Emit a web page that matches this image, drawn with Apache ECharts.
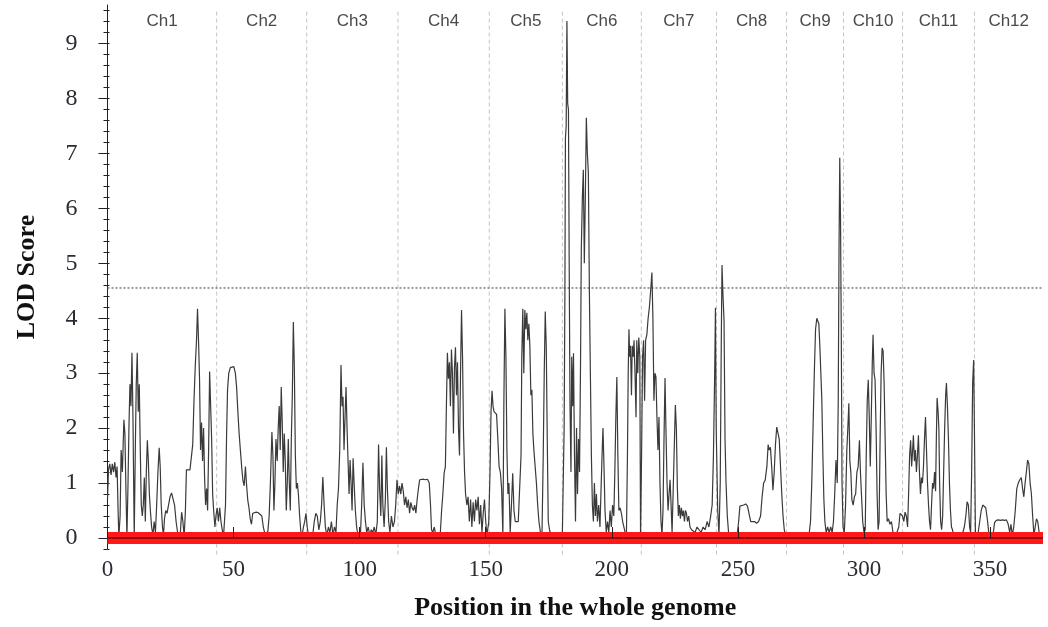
<!DOCTYPE html>
<html>
<head>
<meta charset="utf-8">
<script src="https://cdn.jsdelivr.net/npm/echarts@6/dist/echarts.min.js"></script>
<style>
  html, body { margin: 0; padding: 0; background: #fff; }
  #chart { width: 1048px; height: 627px; }
</style>
</head>
<body>
<div id="chart"></div>
<script>
// Chromosome names and their boundaries along the concatenated genome (cM)
const chrNames = ['Ch1','Ch2','Ch3','Ch4','Ch5','Ch6','Ch7','Ch8','Ch9','Ch10','Ch11','Ch12'];
const chrBounds = [0, 43.3, 79.0, 115.2, 151.4, 180.4, 211.7, 241.5, 269.3, 291.9, 315.3, 343.8, 371];

// LOD significance threshold
const threshold = 4.55;

// Axis tick labels
const xTicks = [0, 50, 100, 150, 200, 250, 300, 350];
const yTicks = [0, 1, 2, 3, 4, 5, 6, 7, 8, 9];

// LOD profile per chromosome: [genome position, LOD]
const ch1 = [[0,0.7],[0.4,1.25],[0.9,1.35],[1.4,1.15],[1.9,1.35],[2.4,1.2],[2.9,1.38],[3.4,1.1],[3.8,1.3],[4.2,0.5],[4.5,0.02],[5.0,0.4],[5.4,1.6],[5.9,1.2],[6.5,2.15],[6.9,1.9],[7.3,0.9],[7.7,0.02],[8.1,0.9],[8.5,2.0],[8.9,2.8],[9.3,2.4],[9.7,3.37],[10.1,2.2],[10.6,0.02],[11.0,1.5],[11.4,2.8],[11.8,3.37],[12.2,2.3],[12.6,2.8],[13.0,1.6],[13.4,0.6],[13.8,0.4],[14.2,0.6],[14.6,1.1],[15.0,0.3],[15.4,1.2],[15.8,1.78],[16.2,1.4],[16.6,0.8],[17.0,0.5],[17.5,0.2],[18.0,0.05],[18.5,0.3],[19.0,0.1],[19.5,0.6],[20.0,1.2],[20.5,1.64],[20.9,1.3],[21.3,0.6],[21.8,0.2],[22.2,0.05],[22.6,0.35],[23.1,0.5],[23.6,0.45],[24.2,0.6],[24.8,0.75],[25.4,0.82],[26.0,0.8],[26.6,0.6],[27.2,0.3],[27.8,0.1],[28.4,0.02],[28.9,0.1],[29.4,0.47],[29.9,0.3],[30.4,0.02],[30.9,0.5],[31.3,1.24],[32.0,1.24],[32.7,1.24],[33.3,1.24],[33.8,1.7],[34.3,2.5],[34.8,3.12],[35.3,3.6],[35.7,4.17],[36.1,3.6],[36.5,2.9],[36.9,1.6],[37.3,2.1],[37.7,1.4],[38.1,2.0],[38.5,1.1],[38.9,0.6],[39.3,0.9],[39.7,0.5],[40.1,1.6],[40.5,3.03],[40.9,2.4],[41.3,1.8],[41.7,0.8],[42.1,0.5],[42.6,0.2],[43.0,0.4]];
const ch2 = [[43.5,0.55],[44.0,0.3],[44.5,0.55],[45.0,0.3],[45.5,0.15],[46.0,0.02],[46.3,0.05],[46.8,0.6],[47.2,1.8],[47.6,2.7],[48.1,3.0],[48.7,3.1],[49.4,3.13],[50.1,3.12],[50.7,3.0],[51.2,2.75],[51.7,2.3],[52.2,1.9],[52.7,1.6],[53.2,1.3],[53.7,1.05],[54.2,0.95],[54.7,1.3],[55.1,1.0],[55.6,0.7],[56.1,0.55],[56.6,0.35],[57.1,0.25],[57.6,0.45],[58.3,0.47],[59.0,0.47],[59.8,0.46],[60.5,0.45],[61.2,0.4],[61.8,0.2],[62.4,0.08],[63.0,0.1],[63.6,0.12],[64.1,0.4],[64.6,1.0],[65.2,1.93],[65.6,1.5],[66.0,0.5],[66.4,1.0],[66.8,1.8],[67.3,1.4],[67.7,2.0],[68.1,2.4],[68.5,1.6],[68.9,2.75],[69.3,2.1],[69.7,1.2],[70.1,1.9],[70.5,1.4],[70.9,0.5],[71.3,1.0],[71.7,1.8],[72.1,1.0],[72.5,0.5],[72.9,1.8],[73.3,2.6],[73.7,3.93],[74.1,3.1],[74.5,1.5],[74.9,0.9],[75.3,1.0],[75.7,0.8],[76.2,0.4],[76.7,0.1],[77.2,0.05],[77.7,0.2],[78.2,0.3]];
const ch3 = [[78.7,0.45],[79.2,0.2],[79.7,0.05],[80.3,0.1],[80.9,0.05],[81.5,0.1],[82.0,0.3],[82.6,0.45],[83.2,0.4],[83.8,0.15],[84.4,0.3],[84.9,0.6],[85.4,1.11],[85.9,0.6],[86.4,0.2],[87.0,0.05],[87.6,0.2],[88.2,0.1],[88.8,0.3],[89.4,0.05],[90.0,0.2],[90.6,0.1],[91.1,0.6],[91.6,0.9],[92.1,1.6],[92.6,3.15],[93.0,2.4],[93.4,2.57],[93.8,1.6],[94.2,2.2],[94.6,2.75],[95.0,2.0],[95.4,1.4],[95.8,0.8],[96.2,1.42],[96.6,1.0],[97.0,0.5],[97.4,1.45],[97.8,1.0],[98.3,0.5],[98.8,0.2],[99.3,0.05],[99.8,0.1],[100.3,0.05],[100.8,0.6],[101.3,1.37],[101.8,0.6],[102.3,0.3],[102.8,0.1],[103.4,0.2],[104.0,0.05],[104.6,0.15],[105.2,0.1],[105.8,0.2],[106.4,0.05],[107.0,0.3],[107.5,1.7],[107.9,0.9],[108.4,0.4],[108.8,1.5],[109.2,0.6],[109.7,0.2],[110.2,0.7],[110.6,1.65],[111.0,0.9],[111.5,0.3],[112.0,0.1],[112.6,0.4],[113.2,0.2],[113.8,0.3],[114.3,0.6],[114.8,1.06]];
const ch4 = [[115.3,0.8],[115.8,0.95],[116.3,0.8],[116.8,1.0],[117.3,0.85],[117.8,0.6],[118.3,0.75],[118.8,0.55],[119.3,0.7],[119.8,0.45],[120.3,0.65],[120.8,0.55],[121.3,0.5],[121.8,0.6],[122.3,0.45],[122.8,0.7],[123.3,0.9],[123.8,1.06],[124.5,1.07],[125.3,1.07],[126.1,1.06],[126.9,1.07],[127.6,1.0],[128.1,0.6],[128.5,0.15],[129.0,0.1],[129.6,0.2],[130.2,0.05],[130.8,0.1],[131.4,0.05],[132.0,0.1],[132.5,0.5],[133.0,0.8],[133.5,1.18],[134.0,1.3],[134.4,2.4],[134.8,3.37],[135.2,2.9],[135.6,3.2],[136.0,2.4],[136.4,3.43],[136.8,3.0],[137.2,1.9],[137.6,3.1],[138.0,3.47],[138.4,2.6],[138.8,3.2],[139.2,2.0],[139.6,1.5],[140.0,3.0],[140.4,4.15],[140.8,3.3],[141.2,1.9],[141.6,1.2],[142.0,0.8],[142.5,0.6],[143.0,0.75],[143.5,0.3],[144.0,0.7],[144.5,0.2],[145.0,0.65],[145.5,0.3],[146.0,0.7],[146.5,0.5],[147.0,0.75],[147.5,0.25],[148.0,0.6],[148.5,0.1],[149.0,0.45],[149.5,0.7],[150.0,0.3],[150.5,0.05]];
const ch5 = [[151.2,0.3],[151.7,1.2],[152.1,2.3],[152.5,2.68],[152.9,2.4],[153.3,2.3],[153.8,2.28],[154.3,2.25],[154.8,1.8],[155.3,1.3],[155.8,1.2],[156.3,0.9],[156.8,0.05],[157.2,2.5],[157.6,4.17],[158.0,3.3],[158.4,1.6],[158.8,0.8],[159.2,1.0],[159.7,0.1],[160.2,0.6],[160.7,1.18],[161.2,0.5],[161.7,0.3],[162.3,0.27],[162.9,0.3],[163.5,0.27],[164.0,1.5],[164.3,3.3],[164.7,4.17],[165.1,3.0],[165.5,4.15],[165.9,3.8],[166.3,4.1],[166.7,3.6],[167.1,3.9],[167.5,3.5],[167.9,2.6],[168.3,2.7],[168.7,1.9],[169.1,1.6],[169.6,1.3],[170.1,1.0],[170.6,0.6],[171.1,0.3],[171.7,0.1],[172.3,0.05],[172.8,1.5],[173.2,3.0],[173.6,4.12],[174.0,3.5],[174.4,1.8],[174.8,0.3],[175.3,0.15],[175.9,0.05],[176.5,0.1],[177.2,0.05],[178.0,0.05],[178.8,0.05],[179.6,0.1]];
const ch6 = [[180.4,0.1],[180.8,1.2],[181.1,2.0],[181.4,4.5],[181.6,7.27],[181.9,7.5],[182.2,9.41],[182.5,7.9],[182.8,7.8],[183.1,5.0],[183.4,2.5],[183.8,1.2],[184.1,3.3],[184.5,2.4],[184.8,3.36],[185.2,1.5],[185.6,0.3],[186.0,2.0],[186.4,0.8],[186.8,1.8],[187.2,1.2],[187.6,3.2],[187.9,5.25],[188.3,6.16],[188.7,6.7],[189.1,5.0],[189.5,6.2],[189.9,7.65],[190.3,7.0],[190.7,6.65],[191.1,4.5],[191.5,3.0],[191.9,1.5],[192.3,0.6],[192.7,0.3],[193.1,1.0],[193.5,0.4],[193.9,0.8],[194.3,0.3],[194.8,0.6],[195.3,0.2],[195.8,1.0],[196.2,1.6],[196.5,2.0],[196.9,1.3],[197.3,0.5],[197.8,0.1],[198.3,0.3],[198.8,0.1],[199.3,0.5],[199.8,0.2],[200.3,0.6],[200.8,0.4],[201.2,1.2],[201.6,2.2],[202.0,2.93],[202.4,1.5],[202.8,0.5],[203.3,0.55],[203.8,0.45],[204.3,0.3],[204.8,0.2],[205.3,0.1],[205.8,0.05],[206.2,1.5],[206.5,3.0],[206.8,3.8],[207.1,3.3],[207.4,3.5],[207.8,2.6],[208.1,3.5],[208.5,3.3],[208.8,3.6],[209.2,3.0],[209.6,2.2],[209.9,3.6],[210.3,3.0],[210.7,3.65],[211.1,3.3],[211.4,0.05]];
const ch7 = [[211.8,1.5],[212.2,3.3],[212.6,3.6],[213.0,2.5],[213.4,3.6],[213.9,3.7],[214.4,4.0],[214.9,4.2],[215.4,4.5],[215.9,4.83],[216.3,4.0],[216.7,2.5],[217.1,3.0],[217.5,2.93],[217.9,2.2],[218.3,1.6],[218.7,2.2],[219.1,1.0],[219.5,0.3],[219.9,0.05],[220.3,0.5],[220.7,1.8],[221.1,2.91],[221.5,1.9],[221.9,1.0],[222.3,0.5],[222.7,0.8],[223.1,1.06],[223.5,0.6],[223.9,0.1],[224.3,0.8],[224.8,1.7],[225.2,2.42],[225.6,2.0],[226.0,0.9],[226.4,0.4],[226.8,0.6],[227.2,0.35],[227.6,0.55],[228.0,0.4],[228.4,0.5],[228.8,0.3],[229.2,0.5],[229.6,0.45],[230.0,0.3],[230.5,0.4],[231.0,0.2],[231.6,0.15],[232.3,0.18],[233.0,0.1],[233.8,0.2],[234.6,0.15],[235.4,0.1],[236.2,0.2],[237.0,0.15],[237.8,0.3],[238.5,0.2],[239.2,0.4],[239.8,0.6],[240.3,1.5],[240.8,3.0],[241.1,4.19],[241.4,2.0]];
const ch8 = [[242.0,0.5],[242.5,0.05],[243.0,1.0],[243.4,3.5],[243.7,4.97],[244.1,4.4],[244.5,3.97],[244.9,1.8],[245.3,1.0],[245.8,0.4],[246.3,0.1],[246.9,0.05],[247.6,0.1],[248.3,0.05],[249.0,0.08],[249.7,0.05],[250.3,0.3],[250.8,0.58],[251.5,0.6],[252.3,0.6],[253.1,0.62],[253.8,0.58],[254.5,0.55],[255.1,0.3],[255.8,0.28],[256.6,0.3],[257.4,0.27],[258.2,0.3],[259.0,0.4],[259.6,0.75],[260.2,1.0],[260.8,1.05],[261.5,1.3],[262.0,1.7],[262.4,1.6],[262.9,1.65],[263.4,1.3],[263.9,0.87],[264.4,1.2],[264.9,1.7],[265.4,2.02],[265.9,2.0],[266.4,1.8],[266.9,1.3],[267.4,0.8],[267.9,0.4],[268.4,0.15],[268.9,0.05]];
const ch9 = [[269.6,0.1],[270.3,0.05],[271.0,0.1],[271.8,0.05],[272.6,0.08],[273.4,0.05],[274.2,0.1],[275.0,0.05],[275.8,0.08],[276.6,0.05],[277.4,0.1],[278.2,0.05],[278.8,0.3],[279.3,1.0],[279.8,2.0],[280.3,3.0],[280.8,3.8],[281.3,4.0],[281.7,4.03],[282.1,3.9],[282.5,3.5],[282.9,3.0],[283.3,2.5],[283.7,1.5],[284.1,0.7],[284.5,0.3],[285.0,0.1],[285.6,0.2],[286.2,0.1],[286.8,0.2],[287.4,0.1],[287.9,0.3],[288.4,0.8],[288.9,1.42],[289.4,1.0],[289.8,2.5],[290.1,5.2],[290.4,6.92],[290.7,5.8],[291.0,3.73],[291.3,1.0],[291.7,0.2]];
const ch10 = [[292.2,0.1],[292.7,0.6],[293.2,1.6],[293.6,2.0],[294.0,2.45],[294.4,1.4],[294.8,1.2],[295.2,0.7],[295.7,0.6],[296.2,0.75],[296.7,0.8],[297.2,1.2],[297.7,1.3],[298.2,1.78],[298.6,1.2],[299.0,0.8],[299.5,0.3],[300.0,0.1],[300.5,0.15],[300.9,1.5],[301.3,2.5],[301.7,2.88],[302.1,2.2],[302.5,1.3],[302.9,2.2],[303.3,3.2],[303.6,3.7],[304.0,3.0],[304.4,2.88],[304.8,2.0],[305.2,0.8],[305.6,0.15],[306.0,0.3],[306.4,1.8],[306.8,3.0],[307.2,3.46],[307.6,3.4],[308.0,2.8],[308.4,1.8],[308.8,0.8],[309.2,0.3],[309.7,0.35],[310.3,0.25],[310.9,0.3],[311.5,0.1],[312.1,0.08],[312.7,0.05],[313.3,0.08],[313.8,0.2],[314.3,0.45],[314.8,0.47]];
const ch11 = [[315.3,0.4],[315.8,0.3],[316.3,0.47],[316.8,0.4],[317.3,0.2],[317.7,0.8],[318.1,1.5],[318.5,1.78],[318.9,1.3],[319.3,1.6],[319.6,1.87],[320.0,1.4],[320.4,1.6],[320.8,1.2],[321.2,1.5],[321.6,1.87],[322.0,1.2],[322.4,0.8],[322.8,1.1],[323.2,1.0],[323.6,1.3],[324.0,1.8],[324.4,2.2],[324.8,1.6],[325.2,1.0],[325.6,0.6],[326.0,0.3],[326.4,0.15],[326.8,0.6],[327.2,1.0],[327.6,0.9],[328.0,1.2],[328.4,0.85],[328.7,1.8],[329.0,2.55],[329.4,2.3],[329.7,2.0],[330.0,1.0],[330.4,0.3],[330.8,0.15],[331.2,0.4],[331.6,1.2],[332.0,2.0],[332.4,2.6],[332.7,2.82],[333.1,2.4],[333.5,1.8],[333.9,1.0],[334.3,0.5],[334.7,0.2],[335.1,0.15],[335.6,0.05],[336.2,0.1],[336.8,0.05],[337.4,0.1],[338.0,0.05],[338.6,0.08],[339.2,0.1],[339.8,0.2],[340.4,0.4],[340.9,0.66],[341.4,0.6],[341.9,0.2],[342.3,0.1],[342.7,1.2],[343.1,2.82],[343.5,3.24]];
const ch12 = [[343.8,2.0],[344.2,0.1],[344.8,0.05],[345.3,0.1],[345.9,0.3],[346.5,0.5],[347.1,0.6],[347.7,0.62],[348.3,0.55],[348.9,0.35],[349.5,0.1],[350.1,0.05],[350.7,0.05],[351.3,0.1],[351.8,0.28],[352.5,0.32],[353.3,0.33],[354.1,0.32],[354.9,0.33],[355.7,0.32],[356.5,0.33],[357.2,0.25],[357.8,0.1],[358.3,0.25],[358.8,0.05],[359.4,0.2],[360.0,0.5],[360.6,0.9],[361.2,1.0],[361.8,1.06],[362.4,1.1],[362.9,0.9],[363.4,0.75],[363.9,1.0],[364.4,1.2],[364.9,1.42],[365.4,1.35],[365.9,1.0],[366.4,0.8],[366.9,0.4],[367.4,0.05],[367.9,0.2],[368.4,0.35],[368.9,0.3],[369.5,0.1],[370.0,0.05]];

const lodProfile = [].concat(ch1, ch2, ch3, ch4, ch5, ch6, ch7, ch8, ch9, ch10, ch11, ch12);

const X_MIN = 0, X_MAX = 371;
const Y_MIN = -0.2, Y_MAX = 9.7;

// minor ticks every 0.2 LOD along the y axis
const yMinor = [];
for (let i = -1; i <= 48; i++) yMinor.push(+(i * 0.2).toFixed(1));

// chromosome label anchors: midpoint of each chromosome
const chrMid = chrNames.map((n, i) => [(chrBounds[i] + chrBounds[i + 1]) / 2, i]);
const chrDividers = chrBounds.slice(1, -1).map(b => [b]);

const SERIF = "'Liberation Serif','Times New Roman',serif";
const SANS = "'Liberation Sans',Arial,sans-serif";

const chart = echarts.init(document.getElementById('chart'), null, { renderer: 'canvas' });

const baseY = { type: 'value', min: Y_MIN, max: Y_MAX, position: 'left', splitLine: { show: false } };

chart.setOption({
  animation: false,
  backgroundColor: '#ffffff',
  grid: { left: 107.5, right: 5, top: 5, bottom: 78, containLabel: false },
  xAxis: {
    type: 'value', min: X_MIN, max: X_MAX, z: 10,
    axisLine: { show: false },
    axisTick: { show: true, inside: true, length: 11, customValues: xTicks, lineStyle: { color: '#222', width: 1 } },
    axisLabel: { customValues: xTicks, margin: 9, fontFamily: SERIF, fontSize: 23, color: '#2b2b33' },
    splitLine: { show: false },
    name: 'Position in the whole genome', nameLocation: 'middle', nameGap: 46,
    nameTextStyle: { fontFamily: SERIF, fontWeight: 'bold', fontSize: 26, color: '#111' }
  },
  yAxis: [
    Object.assign({}, baseY, {
      axisLine: { show: true, lineStyle: { color: '#222', width: 1 } },
      axisTick: { show: true, length: 9, customValues: yTicks, lineStyle: { color: '#222' } },
      axisLabel: { customValues: yTicks, margin: 30, fontFamily: SERIF, fontSize: 24, color: '#2b2b33' },
      name: 'LOD Score', nameLocation: 'middle', nameGap: 67,
      nameTextStyle: { fontFamily: SERIF, fontWeight: 'bold', fontSize: 26, color: '#111' }
    }),
    Object.assign({}, baseY, {
      axisLine: { show: false },
      axisTick: { show: true, length: 4, customValues: yMinor, lineStyle: { color: '#222' } },
      axisLabel: { show: false }
    }),
    Object.assign({}, baseY, {
      axisLine: { show: false },
      axisTick: { show: true, inside: true, length: 2, customValues: yMinor, lineStyle: { color: '#222' } },
      axisLabel: { show: false }
    })
  ],
  series: [
    {
      // chromosome dividers
      type: 'custom', clip: false, z: 1, silent: true,
      data: chrDividers,
      encode: { x: 0 },
      renderItem: function (params, api) {
        const b = api.value(0);
        const top = api.coord([b, 9.58]);
        const bot = api.coord([b, -0.32]);
        return {
          type: 'line',
          shape: { x1: top[0], y1: top[1], x2: bot[0], y2: bot[1] },
          style: { stroke: '#c4c4c4', lineWidth: 1, lineDash: [4, 3] }
        };
      }
    },
    {
      // chromosome names
      type: 'custom', clip: false, z: 1, silent: true,
      data: chrMid,
      encode: { x: 0 },
      renderItem: function (params, api) {
        const p = api.coord([api.value(0), 9.4]);
        return {
          type: 'text',
          style: {
            x: p[0], y: p[1], text: chrNames[api.value(1)],
            textAlign: 'center', textVerticalAlign: 'middle',
            font: '17px ' + SANS, fill: '#4a4a4a'
          }
        };
      }
    },
    {
      // significance threshold
      type: 'line', z: 2, silent: true, symbol: 'none',
      data: [[X_MIN, threshold], [X_MAX, threshold]],
      lineStyle: { color: '#666', width: 1.3, type: [2, 2] }
    },
    {
      type: 'line', name: 'LOD', z: 3, symbol: 'none',
      data: lodProfile,
      lineStyle: { color: '#3a3a3a', width: 1.2 }
    },
    {
      // zero baseline band
      type: 'line', z: 4, silent: true, symbol: 'none',
      data: [[X_MIN, 0], [X_MAX, 0]],
      lineStyle: { color: '#ff1a1a', width: 12 }
    },
    {
      type: 'line', z: 5, silent: true, symbol: 'none',
      data: [[X_MIN, 0], [X_MAX, 0]],
      lineStyle: { color: '#7a0000', width: 1.5 }
    }
  ]
});
</script>
</body>
</html>
